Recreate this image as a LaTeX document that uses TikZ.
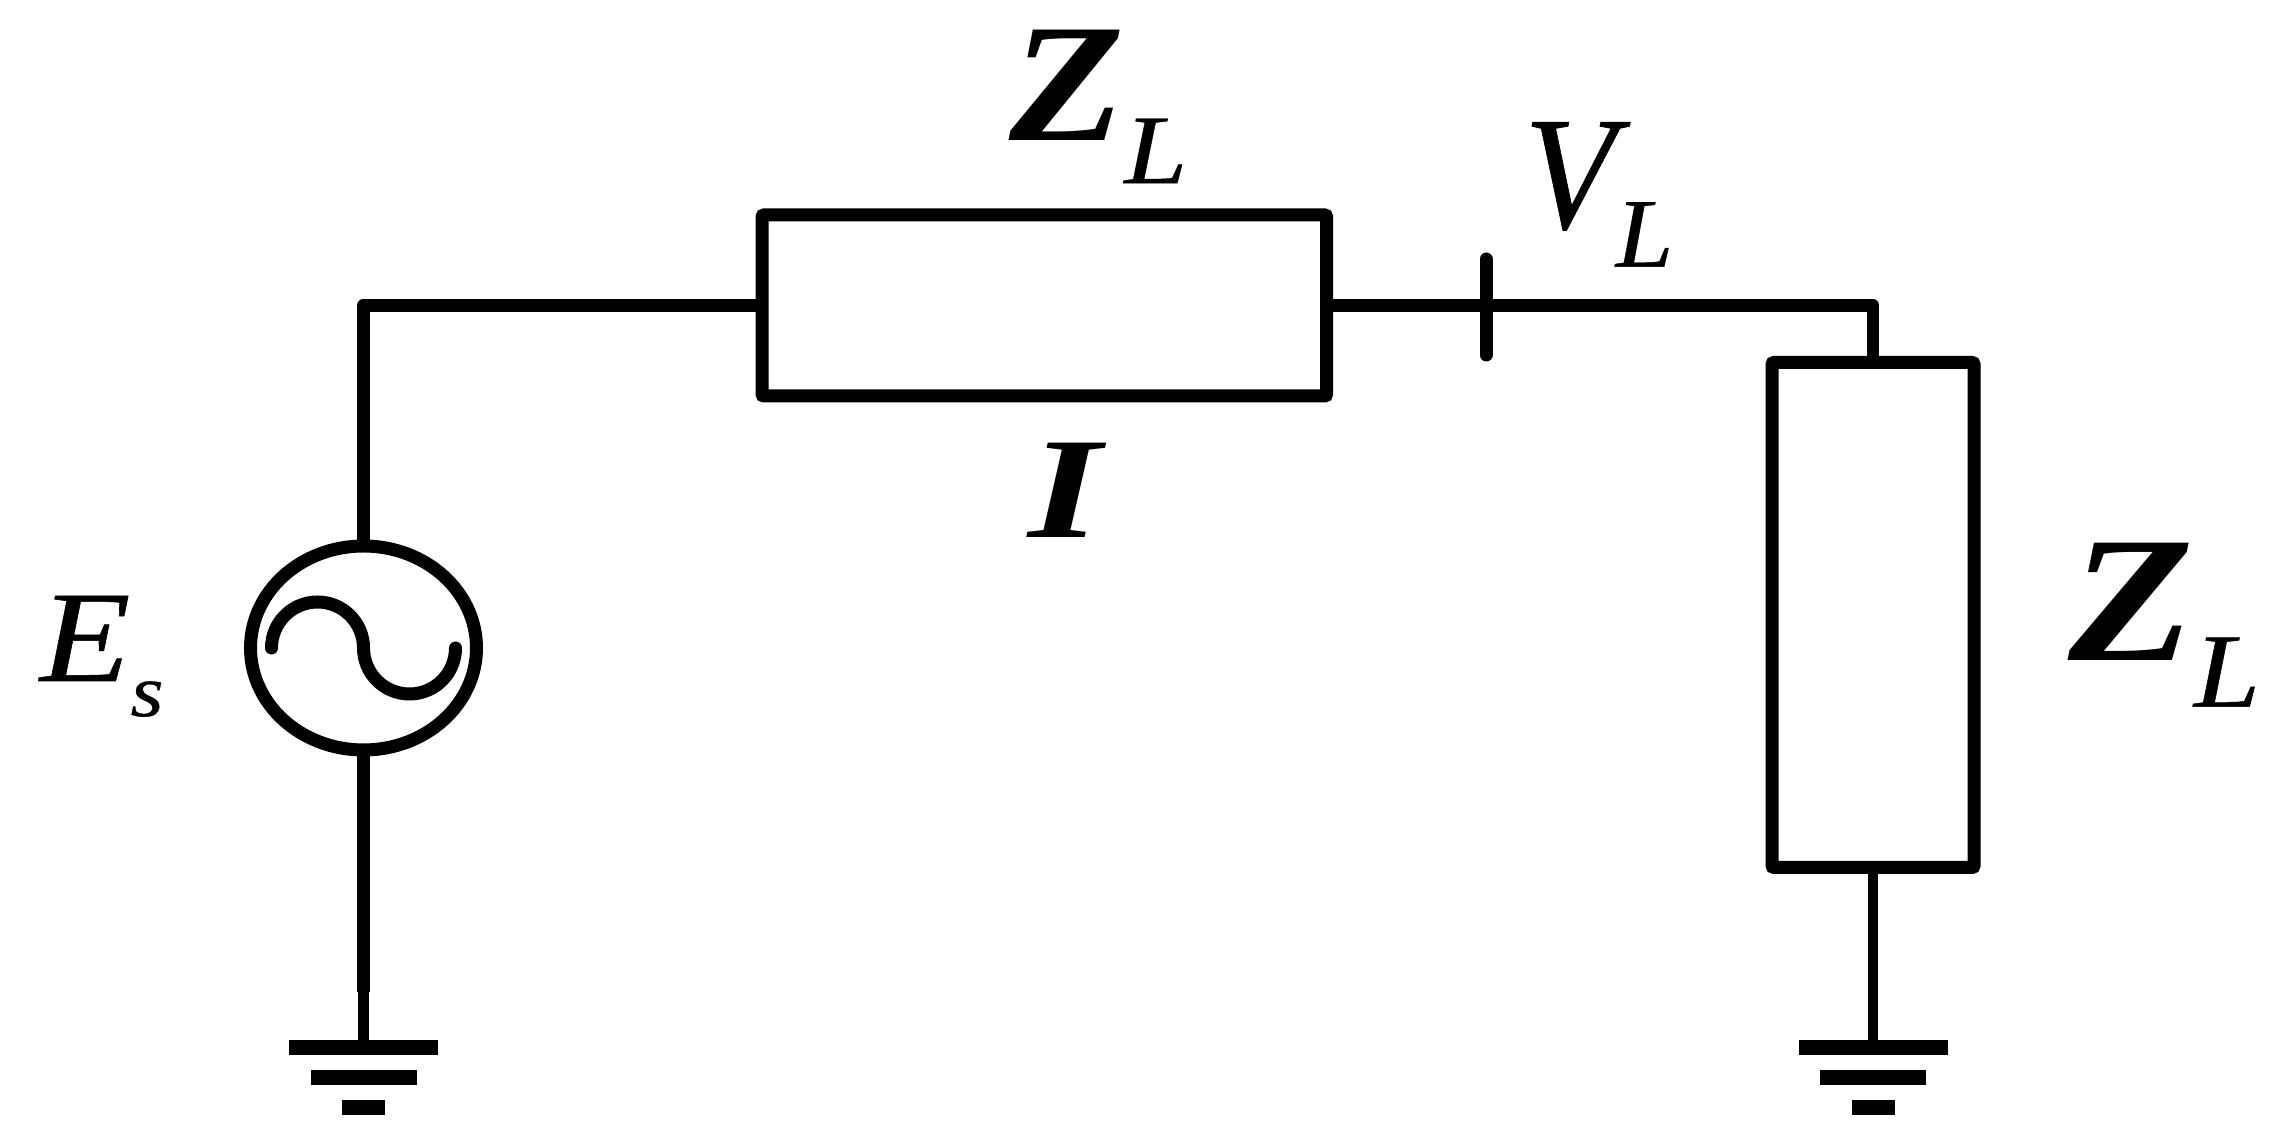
\documentclass[tikz,border=0pt]{standalone}
\usepackage{fontspec}
\setmainfont{Liberation Serif}
\newfontfamily\labfont[FakeBold=0.4]{Liberation Serif Italic}
\newfontfamily\heavyfont{Liberation Serif Bold Italic}
\usepackage{tikz}
\usetikzlibrary{shapes.geometric}
\usetikzlibrary{positioning}
\tikzstyle{block} = [rectangle, draw, line width=0.13cm, inner sep=0pt, outer sep=0pt,
    rounded corners=0.02cm]
\tikzstyle{source} = [ellipse, draw, line width=0.13cm, inner sep=0pt, outer sep=0pt,
    minimum width=2.26cm, minimum height=2.04cm]
\tikzstyle{gndbar} = [rectangle, fill=black, inner sep=0pt, outer sep=0pt, minimum height=0.15cm]
\tikzstyle{label} = [inner sep=0pt, outer sep=0pt, anchor=base west]
\tikzstyle{wire} = [draw, line width=0.125cm, line join=round]
\tikzstyle{thickwire} = [draw, line width=0.135cm, line join=round]
\tikzstyle{thinwire} = [draw, line width=0.107cm]
\tikzstyle{curve} = [draw, line width=0.13cm, line cap=round]
% #1 font, #2 letter, #3 size, #4 widening, #5 index, #6 size, #7 widening, #8 drop
\newcommand{\sublabel}[8]{\scalebox{#4}[1]{\fontsize{#3}{#3}\selectfont#1#2}\raisebox{#8}{\scalebox{#7}[1]{\fontsize{#6}{#6}\selectfont\labfont #5}}}

\begin{document}
\begin{tikzpicture}[node distance = 0.15cm]
    \useasboundingbox (0,0) rectangle (22.76,11.35);
    % Place nodes
    \node [source] (es) at (3.635,4.87) {};
    \node [block, minimum width=5.646cm, minimum height=1.81cm] (zline) at (10.443,8.295) {};
    \node [block, minimum width=2.02cm, minimum height=5.05cm] (zload) at (18.73,5.20) {};

    \node [gndbar, minimum width=1.49cm] (gndl) at (3.635,0.875) {};
    \node [gndbar, minimum width=1.06cm, below=of gndl] (gndlb) {};
    \node [gndbar, minimum width=0.43cm, below=of gndlb] (gndlc) {};
    \node [gndbar, minimum width=1.49cm] (gndr) at (18.73,0.875) {};
    \node [gndbar, minimum width=1.06cm, below=of gndr] (gndrb) {};
    \node [gndbar, minimum width=0.43cm, below=of gndrb] (gndrc) {};

    \coordinate (taper) at (3.635,1.43);
    \coordinate (ticktop) at (14.86,8.76);
    \coordinate (tickbot) at (14.86,7.80);

    % Labels
    \node [label] (zlinelab) at (10.09,9.94) {\sublabel{\heavyfont}{Z}{48}{1.12}{L}{28}{1.15}{-12pt}};
    \node [label] (vlab) at (15.24,9.07) {\sublabel{\labfont}{V}{46}{0.93}{L}{28}{1.05}{-11pt}};
    \node [label] (ilab) at (10.28,5.97) {\scalebox{1.3}[1]{\fontsize{41}{41}\selectfont\heavyfont I}};
    \node [label] (eslab) at (0.40,4.54) {\sublabel{\labfont}{E}{37}{1.14}{s}{21}{1.15}{-10pt}};
    \node [label] (zloadlab) at (20.68,4.74) {\sublabel{\heavyfont}{Z}{51}{1.15}{L}{30}{1.13}{-13pt}};

    % Draw edges
    \path [thickwire] (es) |- (zline);
    \path [wire] (zline) -| (zload);
    \path [curve] (ticktop) -- (tickbot);
    \path [thickwire] (es) -- (taper);
    \path [thinwire] (taper) -- (gndl);
    \path [thinwire] (zload) -- (gndr);
    \path [curve] ([xshift=-0.92cm]es.center) arc (180:0:0.46cm) arc (180:360:0.46cm);
\end{tikzpicture}
\end{document}
